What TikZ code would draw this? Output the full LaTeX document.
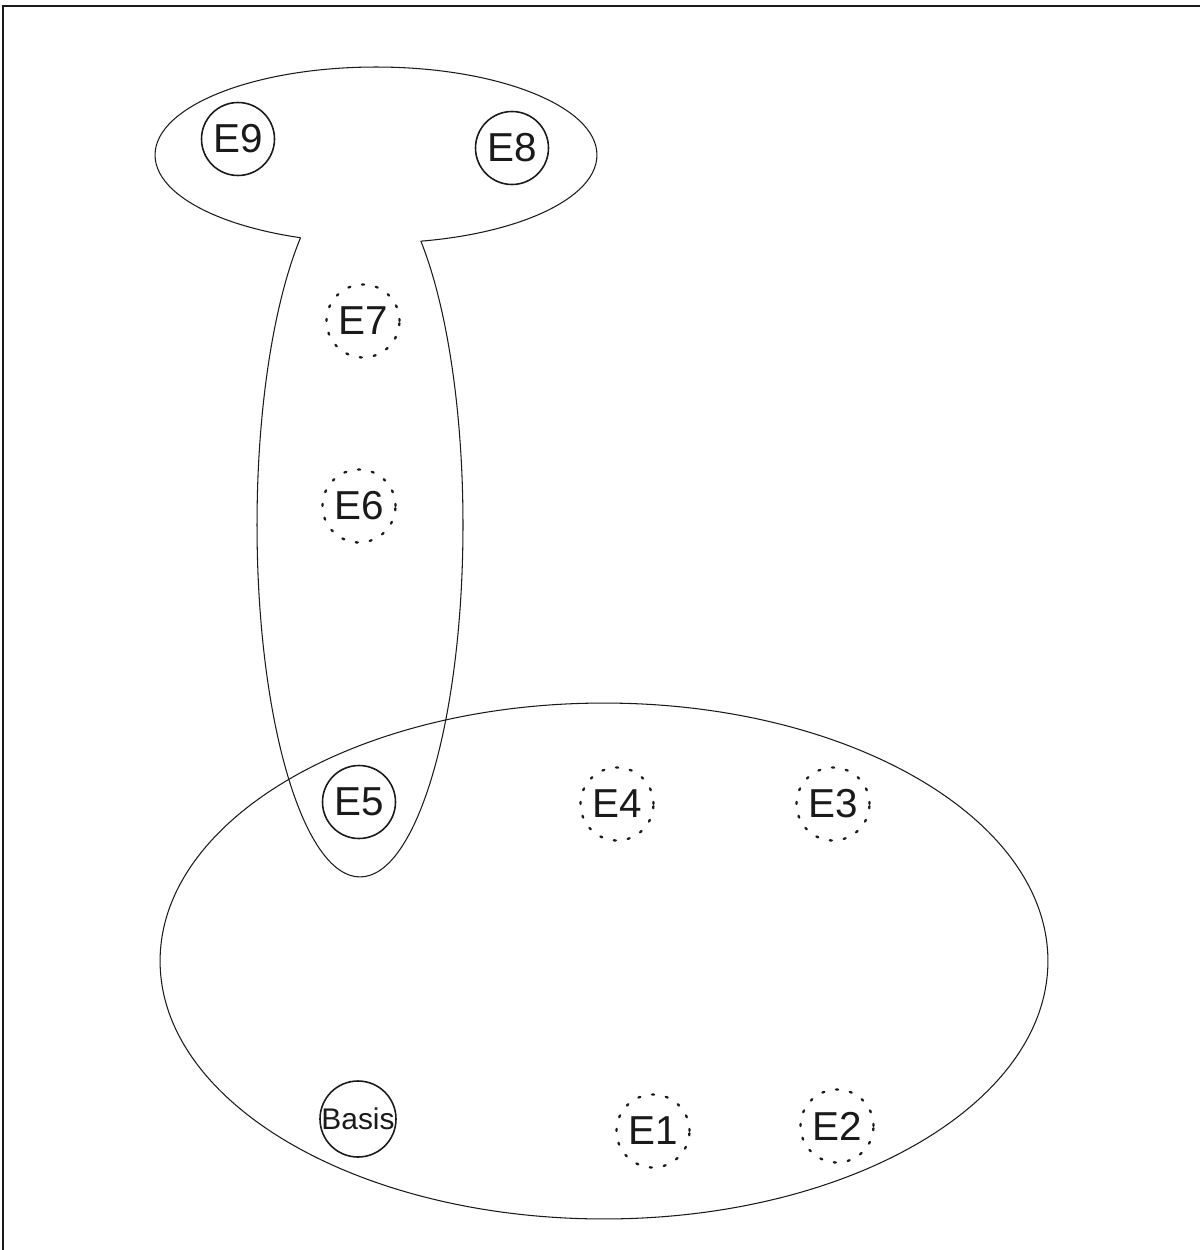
\documentclass[tikz,border=0pt]{standalone}
\usepackage{fontspec}
\setsansfont{Liberation Sans}
\usetikzlibrary{positioning}
\definecolor{cInk}{HTML}{1A1A1A}

\begin{document}
\begin{tikzpicture}[
  x=0.02cm, y=-0.02cm,
  font=\sffamily,
  ent/.style={circle, draw=cInk, line width=0.9pt, minimum size=1.46cm, inner sep=0pt,
              font=\sffamily\fontsize{23}{27}\selectfont, text=cInk},
  hyp/.style={ent, line width=1.3pt, dash pattern=on 1.2pt off 6.8pt, line cap=round},
  basis/.style={ent, font=\sffamily\fontsize{17}{20}\selectfont},
  outline/.style={draw=cInk, line width=0.6pt},
  frame/.style={draw=cInk, line width=1.3pt},
]
\useasboundingbox (0,0) rectangle (1200,1250);

% ---------- Frame ----------
\draw[frame] (3,1250) -- (3,6) -- (1200,6);

% ---------- Entities ----------
\node[ent] (e9) at (238,139) {E9};
\node[ent] (e8) at (512,148) {E8};
\node[hyp] (e7) at (363,321) {E7};
\node[hyp] (e6) at (359,506) {E6};
\node[ent] (e5) at (359,802) {E5};
\node[hyp] (e4) at (617,804) {E4};
\node[hyp] (e3) at (833,804) {E3};
\node[basis] (basis) at (358,1119) {Basis};
\node[hyp] (e1) at (653,1131) {E1};
\node[hyp] (e2) at (837,1126) {E2};

% ---------- Regions ----------
\coordinate (top) at (376,155);
\coordinate (neck) at (360,525);
\coordinate (low) at (604,961);

% head: ellipse without the part inside the neck
\begin{scope}[even odd rule]
  \clip (-10,-10) rectangle (1210,1260)
    (neck) ellipse [x radius=2.06cm, y radius=7.04cm];
  \draw[outline] (top) ellipse [x radius=4.42cm, y radius=1.76cm];
\end{scope}
% neck: ellipse without the part inside the head
\begin{scope}[even odd rule]
  \clip (-10,-10) rectangle (1210,1260)
    (top) ellipse [x radius=4.42cm, y radius=1.76cm];
  \draw[outline] (neck) ellipse [x radius=2.06cm, y radius=7.04cm];
\end{scope}
% lower group
\draw[outline] (low) ellipse [x radius=8.88cm, y radius=5.16cm];

\end{tikzpicture}
\end{document}
